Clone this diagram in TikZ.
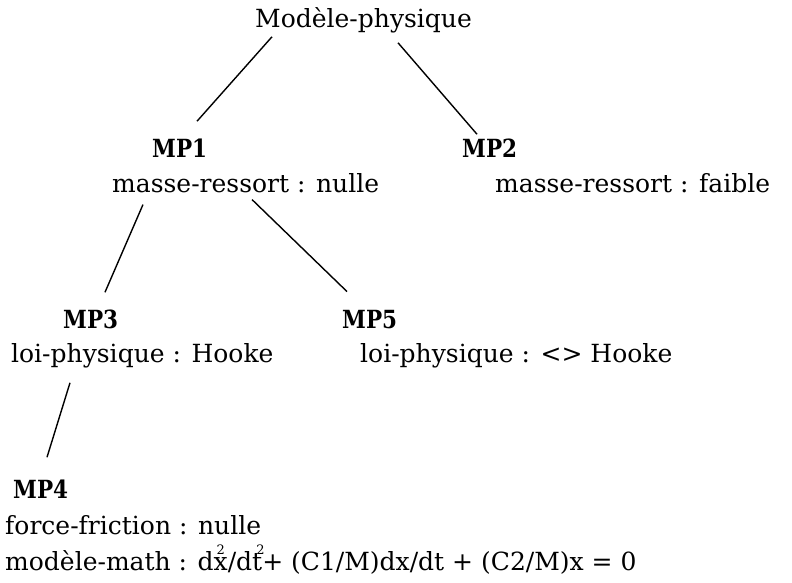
\documentclass[tikz,border=0pt]{standalone}
\usepackage{fontspec}
\setmainfont{DejaVu Serif}
\usetikzlibrary{calc}

% superscript 2 set over the neighbouring letter
\newcommand{\supover}[1]{\makebox[0pt][l]{\raisebox{.62em}{\kern#1\fontsize{13}{13}\selectfont 2}}}
% narrow bold heading of a model
\newcommand{\mphead}[1]{\scalebox{0.86}[1]{\bfseries #1}}

\tikzset{
  lbl/.style={inner sep=0pt, anchor=base west, font=\fontsize{25}{30}\selectfont},
  mp/.style={lbl},
  edge/.style={draw=black, line width=1.4pt}
}

\begin{document}
\begin{tikzpicture}[x=1pt,y=-1pt]
\useasboundingbox (0,0) rectangle (792,582);

% nodes of the tree
\node[lbl] (top)  at (255,27)  {Modèle-physique};
\node[mp]  (mp1)  at (152,157) {\mphead{MP1}};
\node[lbl] (mp1a) at (112,192) {masse-ressort : nulle};
\node[mp]  (mp2)  at (462,157) {\mphead{MP2}};
\node[lbl] (mp2a) at (495,192) {masse-ressort : faible};
\node[mp]  (mp3)  at (63,328)  {\mphead{MP3}};
\node[lbl] (mp3a) at (11,362)  {loi-physique : Hooke};
\node[mp]  (mp5)  at (342,328) {\mphead{MP5}};
\node[lbl] (mp5a) at (360,362) {loi-physique : <> Hooke};
\node[mp]  (mp4)  at (13,498)  {\mphead{MP4}};
\node[lbl] (mp4a) at (5,534)   {force-friction : nulle};
\node[lbl] (mp4b) at (5,570)   {modèle-math : d\supover{3pt}x/dt\supover{-6pt}+ (C1/M)dx/dt + (C2/M)x = 0};

% branches
\draw[edge] ($(top.south west)+(17,4)$)   -- ($(mp1.north west)+(45,-17)$);
\draw[edge] ($(top.south west)+(143,10)$) -- ($(mp2.north west)+(15,-4)$);
\draw[edge] ($(mp1a.south west)+(31,12)$) -- ($(mp3.north west)+(42,-17)$);
\draw[edge] ($(mp1a.south west)+(140,7)$) -- ($(mp5.north west)+(5,-18)$);
\draw[edge] ($(mp3a.south west)+(59,15)$) -- ($(mp4.north west)+(34,-22)$);
\end{tikzpicture}
\end{document}
